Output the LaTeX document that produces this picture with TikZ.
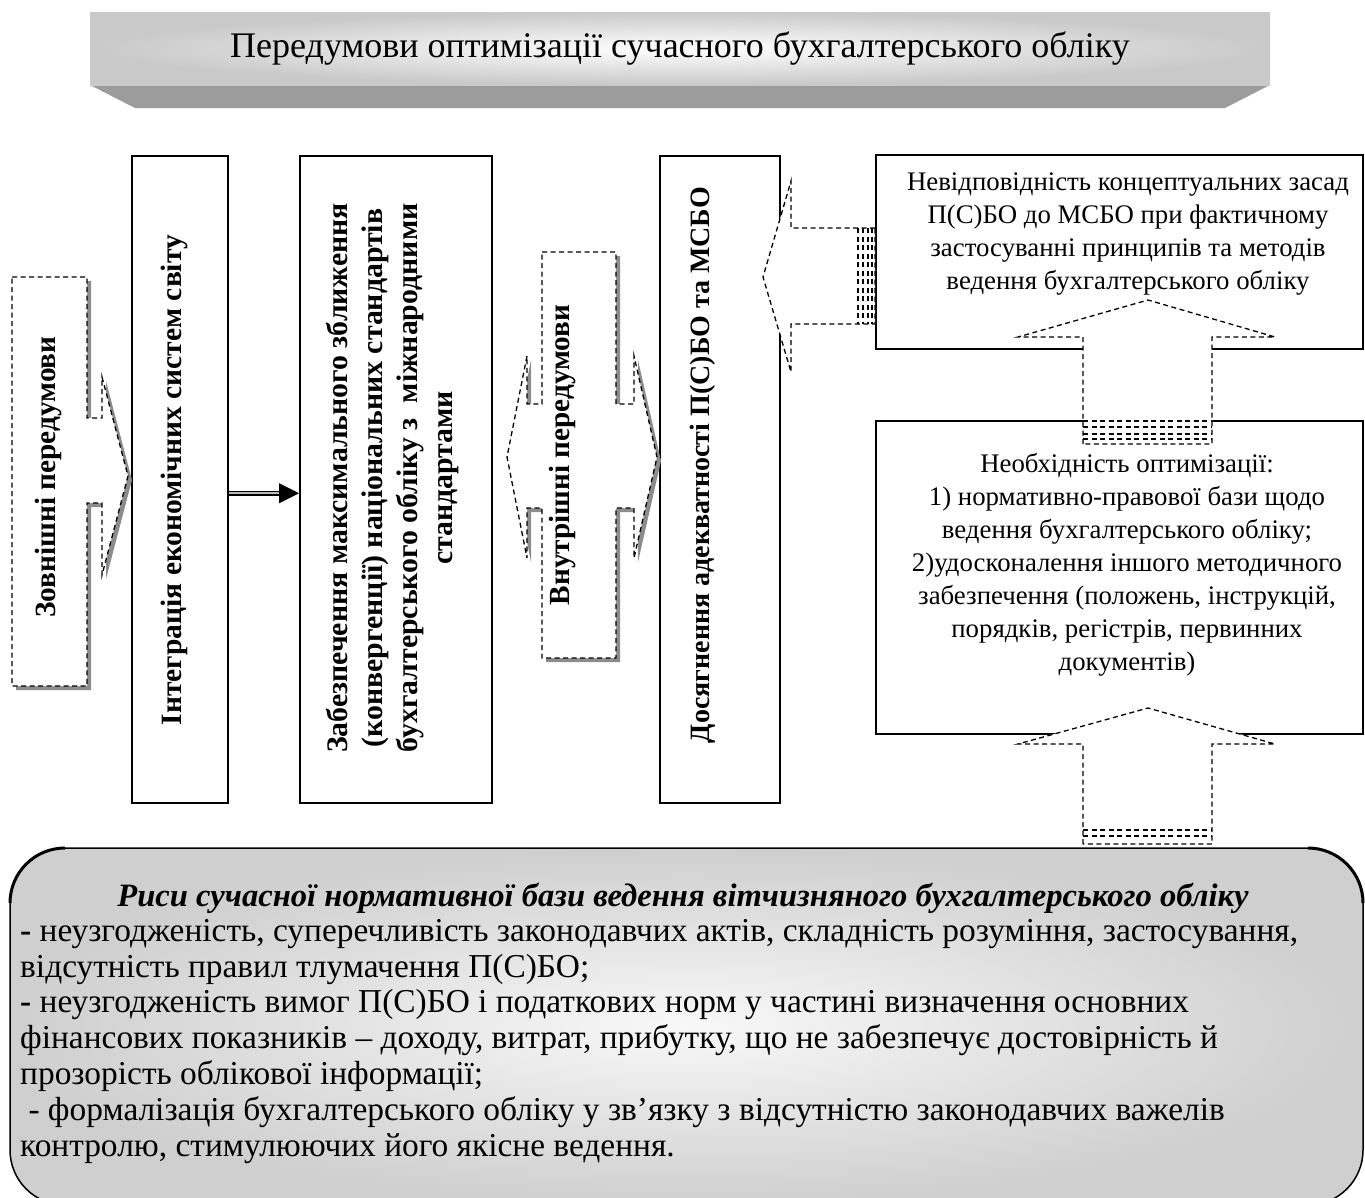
\documentclass[tikz,border=0pt]{standalone}
\usepackage{fontspec}
\setmainfont{Liberation Serif}
\usetikzlibrary{arrows.meta}

\definecolor{shadowgray}{HTML}{8C8C8C}
\definecolor{bevelgray}{HTML}{9C9C9C}
\definecolor{facegray}{HTML}{C9C9C9}
\definecolor{panelouter}{HTML}{CFCFCF}
\definecolor{panelinner}{HTML}{F8F8F8}

\newcommand\fsz[2]{\fontsize{#1}{#2}\selectfont}

\tikzset{
  box/.style={draw=black, line width=1.5pt, fill=white, inner sep=0pt, anchor=north west},
  dashline/.style={draw=black, line width=1.3pt, dash pattern=on 5pt off 3.5pt},
  calloutbody/.style={dashline, fill=white},
  calloutshadow/.style={fill=shadowgray, draw=none, shift={(4,4)}},
  vtext/.style={rotate=90, align=center, inner sep=0pt},
  rtext/.style={font=\fsz{26.8}{33}, align=center, inner sep=0pt},
  % outlines of the block-arrow callouts
  outershape/.style={insert path={(12,277) -- (87,277) -- (87,418) -- (102,418) -- (102,377)
      -- (128,476) -- (102,575) -- (102,503) -- (87,503) -- (87,686) -- (12,686) -- cycle}},
  innershape/.style={insert path={(542,252) -- (616,252) -- (616,404) -- (634,404) -- (634,356)
      -- (657,457) -- (634,558) -- (634,508) -- (616,508) -- (616,658) -- (542,658) -- (542,508)
      -- (527,508) -- (527,558) -- (507,457) -- (527,356) -- (527,404) -- (542,404) -- cycle}},
  leftcallout/.style={insert path={(875,228) -- (791,228) -- (791,181) -- (763,277) -- (791,372)
      -- (791,324) -- (875,324) -- cycle}},
  upcalloutA/.style={insert path={(1083,444) -- (1083,337) -- (1018,337) -- (1148,300)
      -- (1275,337) -- (1212,337) -- (1212,444) -- cycle}},
  upcalloutB/.style={insert path={(1083,844) -- (1083,744) -- (1018,744) -- (1148,708)
      -- (1275,744) -- (1212,744) -- (1212,844) -- cycle}},
}

\begin{document}
\begin{tikzpicture}[x=1pt,y=-1pt]
\useasboundingbox (0,0) rectangle (1365,1197);

% ---- heading banner ----
\fill[bevelgray] (90,85) -- (1270,85) -- (1225,108) -- (135,108) -- cycle;
\shade[inner color=white, outer color=facegray] (90,12) rectangle (1270,85);
\node[font=\fsz{36}{42}, inner sep=0pt] (title) at (680,48)
  {Передумови оптимізації сучасного бухгалтерського обліку};

% ---- bottom panel ----
\shadedraw[draw=black, line width=1.5pt, rounded corners=55pt,
  inner color=panelinner, outer color=panelouter] (10,848) rectangle (1363,1205);
\draw[line width=3pt] (10,903) arc[start angle=180, end angle=90, radius=55pt];
\draw[line width=3pt] (1308,848) arc[start angle=90, end angle=0, radius=55pt];

% ---- vertical boxes ----
\node[box, minimum width=96pt, minimum height=647pt] (integr) at (131,155) {};
\node[box, minimum width=192pt, minimum height=647pt] (zabezp) at (299,155) {};
\node[box, minimum width=120pt, minimum height=647pt] (dosyag) at (659,155) {};

% ---- right boxes ----
\node[box, minimum width=487pt, minimum height=194pt] (nevidp) at (875,154) {};
\node[box, minimum width=487pt, minimum height=313pt] (neobh) at (875,420) {};

% ---- callout: external prerequisites ----
\fill[calloutshadow, outershape];
\path[calloutbody, outershape];

% ---- callout: internal prerequisites ----
\fill[calloutshadow, innershape];
\path[calloutbody, innershape];

% ---- callout pointing from the right box to the adequacy box ----
\path[calloutbody, leftcallout];
\foreach \xx in {858,863,868,872} \draw[dashline] (\xx,228) -- (\xx,324);

% ---- up-arrow callouts ----
\path[calloutbody, upcalloutA];
\foreach \yy in {421,427,434,439} \draw[dashline] (1083,\yy) -- (1212,\yy);
\path[calloutbody, upcalloutB];
\foreach \yy in {830,836} \draw[dashline] (1083,\yy) -- (1212,\yy);

% ---- arrow between the first two boxes ----
\coordinate (headbase) at ([xshift=-20pt,yshift=-14pt]zabezp.west);
\draw[line width=1.6pt, double=gray!55, double distance=1.8pt] ([yshift=-14pt]integr.east) -- (headbase);
\draw[line width=0.8pt, -{Triangle[length=20pt,width=20pt]}] (headbase) -- ([yshift=-14pt]zabezp.west);

% ---- rotated labels ----
\node[vtext, font=\bfseries\fsz{29.3}{35}] (zovn) at (48,477) {Зовнішні передумови};
\node[vtext, font=\bfseries\fsz{29.5}{35}] (integrtext) at (174,480) {Інтеграція економічних систем світу};
\node[vtext, font=\bfseries\fsz{29.8}{35}] (zabtext) at (393,478)
  {Забезпечення максимального зближення\\(конвергенції) національних стандартів\\бухгалтерського обліку з\ \ міжнародними\\стандартами};
\node[vtext, font=\bfseries\fsz{29.2}{35}] (vnutr) at (563,455) {Внутрішні передумови};
\node[vtext, font=\bfseries\fsz{28}{33}] (dosyagtext) at (703,465) {Досягнення адекватності П(С)БО та МСБО};

% ---- right box texts ----
\node[rtext] (nevidptext) at (1128,234)
  {Невідповідність концептуальних засад\\П(С)БО до МСБО при фактичному\\застосуванні принципів та методів\\ведення бухгалтерського обліку};
\node[rtext] (neobhtext) at (1127,565)
  {Необхідність оптимізації:\\1) нормативно-правової бази щодо\\ведення бухгалтерського обліку;\\2)удосконалення іншого методичного\\забезпечення (положень, інструкцій,\\порядків, регістрів, первинних\\документів)};

% ---- panel texts ----
\node[font=\bfseries\itshape\fsz{32.6}{36}, inner sep=0pt] (rysy) at (683,898)
  {Риси сучасної нормативної бази ведення вітчизняного бухгалтерського обліку};
\node[anchor=north west, align=left, font=\fsz{33.4}{35.8}, inner sep=0pt] (rysylist) at (20,919)
  {\textbf{-} неузгодженість, суперечливість законодавчих актів, складність розуміння, застосування,\\
   відсутність правил тлумачення П(С)БО;\\
   \textbf{-} неузгодженість вимог П(С)БО і податкових норм у частині визначення основних\\
   фінансових показників – доходу, витрат, прибутку, що не забезпечує достовірність й\\
   прозорість облікової інформації;\\
   \hspace*{0.25em}- формалізація бухгалтерського обліку у зв’язку з відсутністю законодавчих важелів\\
   контролю, стимулюючих його якісне ведення.};
\end{tikzpicture}
\end{document}
